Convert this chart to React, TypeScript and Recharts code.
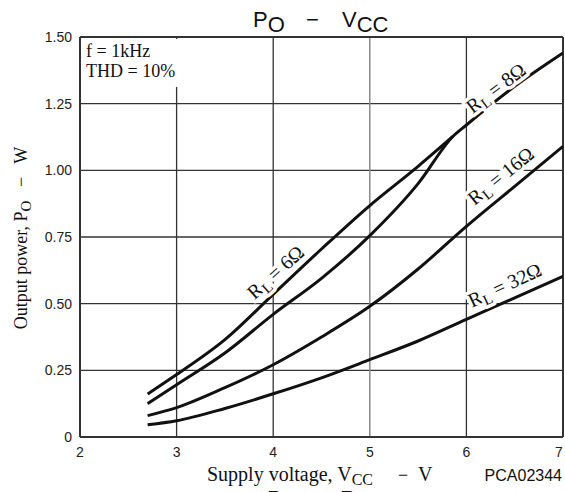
import React from 'react';
import { ComposedChart, Line, Scatter, XAxis, YAxis, CartesianGrid } from 'recharts';

// ---- data ----
const xTicks = [2, 3, 4, 5, 6, 7];
const yTicks = [0, 0.25, 0.5, 0.75, 1.0, 1.25, 1.5];

const vcc6 = [2.7, 3, 3.5, 4, 4.5, 5, 5.5, 5.86];
const po6 = [0.161, 0.234, 0.365, 0.535, 0.705, 0.868, 1.015, 1.127];

const vcc8 = [2.7, 3, 3.5, 4, 4.5, 5, 5.5, 5.86, 6, 6.5, 7];
const po8 = [0.125, 0.196, 0.315, 0.46, 0.595, 0.755, 0.95, 1.127, 1.17, 1.315, 1.44];

const vcc16 = [2.7, 3, 3.5, 4, 4.5, 5, 5.5, 6, 6.5, 7];
const po16 = [0.08, 0.11, 0.185, 0.271, 0.375, 0.49, 0.63, 0.79, 0.94, 1.09];

const vcc32 = [2.7, 3, 3.5, 4, 4.5, 5, 5.5, 6, 6.5, 7];
const po32 = [0.046, 0.061, 0.107, 0.162, 0.222, 0.29, 0.36, 0.441, 0.522, 0.602];

const labelTexts = ['6Ω', '8Ω', '16Ω', '32Ω'];
const labelX = [4.03, 6.31, 6.36, 6.4];
const labelY = [0.616, 1.306, 0.977, 0.567];
const labelAngle = [-42, -37, -39, -25];

const toPts = (xs: number[], ys: number[]) => xs.map((x, i) => ({ x, y: ys[i] }));
const d6 = toPts(vcc6, po6);
const d8 = toPts(vcc8, po8);
const d16 = toPts(vcc16, po16);
const d32 = toPts(vcc32, po32);
const labelData = labelTexts.map((t, i) => ({ x: labelX[i], y: labelY[i], value: t, angle: labelAngle[i] }));

const SERIF = "'Liberation Serif', 'Times New Roman', serif";
const SANS = "'Liberation Sans', Arial, sans-serif";
const PRE = { whiteSpace: 'pre' as const };

function CurveLabel(props: any) {
  const { cx, cy, payload } = props;
  if (cx == null || cy == null) return null;
  return (
    <g transform={`translate(${cx},${cy}) rotate(${payload.angle})`}>
      <text
        x={0}
        y={6}
        textAnchor="middle"
        fontFamily={SERIF}
        fontSize={20}
        fill="#111"
        stroke="#fff"
        strokeWidth={7}
        strokeLinejoin="round"
        paintOrder="stroke"
        xmlSpace="preserve"
        style={PRE}
      >
        R<tspan dy={4} fontSize={15}>L</tspan>
        <tspan dy={-4}>{` = ${payload.value}`}</tspan>
      </text>
    </g>
  );
}

function XTick(props: any) {
  const { x, y, payload } = props;
  const tx = Math.min(x, 559);
  return (
    <text x={tx} y={y} dy="0.71em" textAnchor="middle" fontSize={14} fontFamily={SANS} fill="#222">
      {payload.value}
    </text>
  );
}

const tickStyle = { fontSize: 14, fontFamily: SANS, fill: '#222' };

export default function App() {
  return (
    <div style={{ position: 'absolute', left: 0, top: 0, width: 565, height: 492, overflow: 'hidden', background: '#fff' }}>
      <ComposedChart width={565} height={492} margin={{ top: 37, right: 2, bottom: 0, left: 0 }}>
        <CartesianGrid
          horizontalValues={[0.25, 0.5, 0.75, 1.0, 1.25]}
          verticalValues={[3, 4, 6]}
          stroke="#333"
          strokeWidth={1.3}
        />
        <CartesianGrid horizontal={false} verticalValues={[5]} stroke="#8a8a8a" strokeWidth={1.5} />
        <XAxis
          type="number"
          dataKey="x"
          domain={[2, 7]}
          ticks={xTicks}
          allowDataOverflow
          axisLine={false}
          tickLine={false}
          tickSize={0}
          tickMargin={10}
          height={55}
          interval={0}
          tick={<XTick />}
        />
        <YAxis
          type="number"
          dataKey="y"
          domain={[0, 1.5]}
          ticks={yTicks}
          allowDataOverflow
          axisLine={false}
          tickLine={false}
          tickSize={0}
          tickMargin={8}
          width={80}
          interval={0}
          tick={tickStyle}
          tickFormatter={(v: number) => (v === 0 ? '0' : v.toFixed(2))}
        />
        <CartesianGrid horizontalValues={[0, 1.5]} verticalValues={[2, 7]} stroke="#333" strokeWidth={2} />
        <Scatter data={labelData} dataKey="y" shape={CurveLabel} isAnimationActive={false} />
        <Line data={d6} dataKey="y" type="monotone" dot={false} stroke="#111" strokeWidth={3} isAnimationActive={false} />
        <Line data={d8} dataKey="y" type="monotone" dot={false} stroke="#111" strokeWidth={3} isAnimationActive={false} />
        <Line data={d16} dataKey="y" type="monotone" dot={false} stroke="#111" strokeWidth={3} isAnimationActive={false} />
        <Line data={d32} dataKey="y" type="monotone" dot={false} stroke="#111" strokeWidth={3} isAnimationActive={false} />
      </ComposedChart>
      <svg
        width={565}
        height={492}
        style={{ position: 'absolute', left: 0, top: 0, pointerEvents: 'none' }}
      >
        <g fill="#111">
          {/* title */}
          <text x={253} y={27} fontFamily={SANS} fontSize={22}>
            P<tspan dy={5}>O</tspan>
          </text>
          <text x={306} y={27} fontFamily={SANS} fontSize={22}>−</text>
          <text x={342} y={27} fontFamily={SANS} fontSize={22}>
            V<tspan dy={5}>CC</tspan>
          </text>
          {/* conditions box */}
          <rect x={81} y={39} width={100} height={48} fill="#fff" />
          <text x={86} y={57} fontFamily={SERIF} fontSize={18}>f = 1kHz</text>
          <text x={86} y={77} fontFamily={SERIF} fontSize={18}>THD = 10%</text>
          {/* y label */}
          <text
            transform="translate(27,238) rotate(-90)"
            textAnchor="middle"
            fontFamily={SERIF}
            fontSize={18}
            xmlSpace="preserve"
            style={PRE}
          >
            Output power, P<tspan dy={4} fontSize={15}>O</tspan>
            <tspan dy={-4}>{'   −   W'}</tspan>
          </text>
          {/* x label */}
          <text x={207} y={481} fontFamily={SERIF} fontSize={20}>
            Supply voltage, V<tspan dy={4} fontSize={16}>CC</tspan>
          </text>
          <text x={398} y={481} fontFamily={SERIF} fontSize={18}>−</text>
          <text x={418} y={481} fontFamily={SERIF} fontSize={20}>V</text>
          <text x={562} y={481} textAnchor="end" fontFamily={SANS} fontSize={16}>PCA02344</text>
          {/* next chart title, cut off at the page edge as in the reference */}
          <text x={267} y={506} fontFamily={SANS} fontSize={22}>
            P<tspan dy={5}>O</tspan>
          </text>
          <text x={340} y={506} fontFamily={SANS} fontSize={22}>
            R<tspan dy={5}>L</tspan>
          </text>
        </g>
      </svg>
    </div>
  );
}
